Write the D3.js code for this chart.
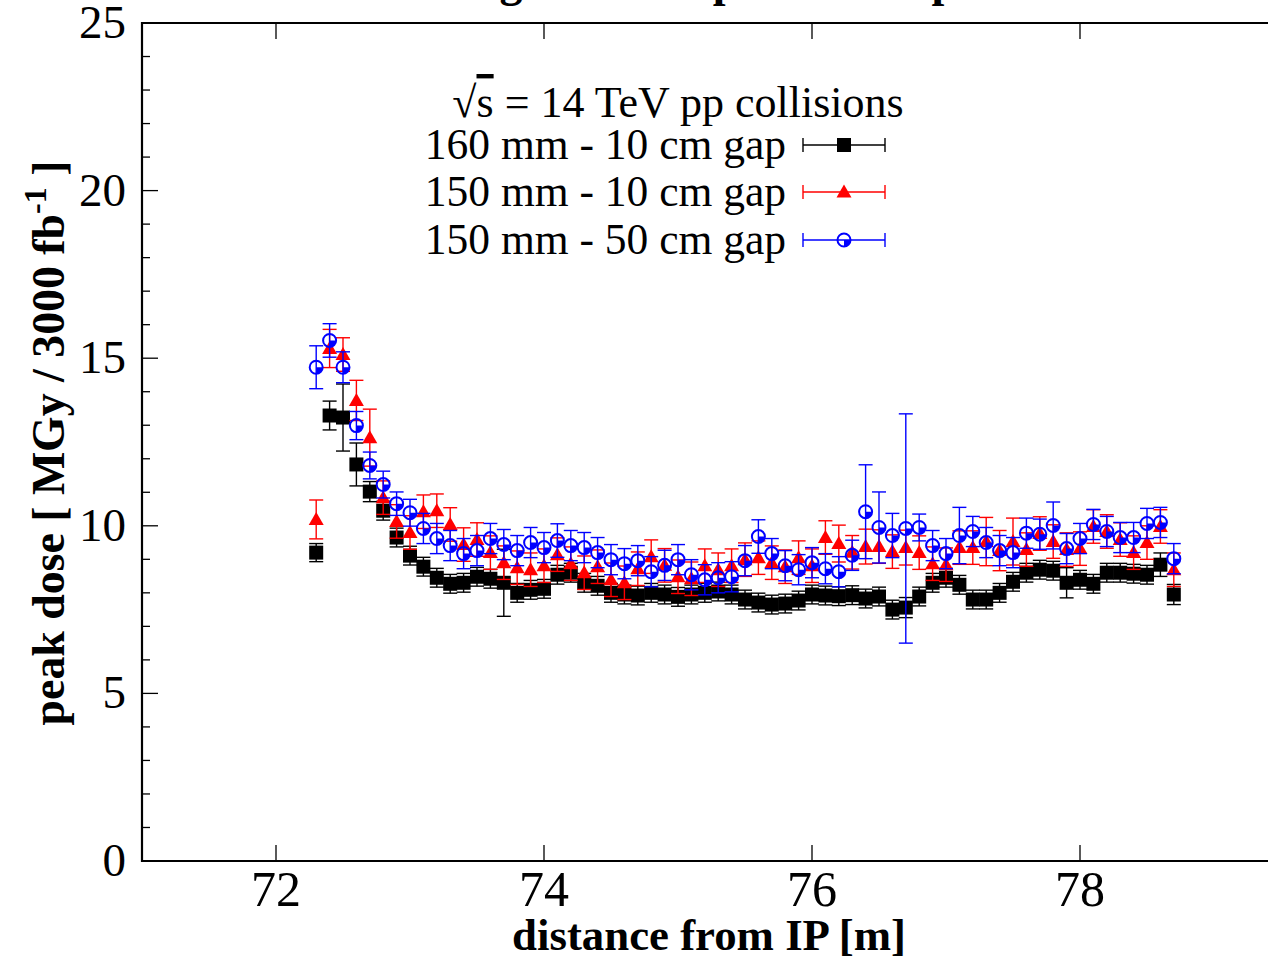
<!DOCTYPE html>
<html><head><meta charset="utf-8">
<script src="https://cdn.jsdelivr.net/npm/d3@7"></script>
<style>body{margin:0;background:#fff}svg{display:block}text{font-family:"Liberation Serif","Times New Roman",serif}</style>
</head><body>
<svg id="c" width="1268" height="959"></svg>
<script>
const distance = [72.3,72.4,72.5,72.6,72.7,72.8,72.9,73.0,73.1,73.2,73.3,73.4,73.5,73.6,73.7,73.8,73.9,74.0,74.1,74.2,74.3,74.4,74.5,74.6,74.7,74.8,74.9,75.0,75.1,75.2,75.3,75.4,75.5,75.6,75.7,75.8,75.9,76.0,76.1,76.2,76.3,76.4,76.5,76.6,76.7,76.8,76.9,77.0,77.1,77.2,77.3,77.4,77.5,77.6,77.7,77.8,77.9,78.0,78.1,78.2,78.3,78.4,78.5,78.6,78.7];
const dose160_10 = [9.20,13.29,13.23,11.83,11.02,10.45,9.65,9.11,8.78,8.45,8.27,8.30,8.48,8.42,8.30,8.00,8.09,8.12,8.54,8.60,8.30,8.21,8.00,7.95,7.92,8.00,7.95,7.88,7.95,8.00,8.04,7.95,7.80,7.71,7.65,7.68,7.77,7.95,7.92,7.90,7.93,7.83,7.89,7.50,7.56,7.89,8.30,8.45,8.24,7.80,7.80,8.00,8.33,8.60,8.69,8.66,8.30,8.39,8.27,8.60,8.60,8.57,8.54,8.84,7.95];
const err160_10 = [0.27,0.43,1.00,0.64,0.30,0.28,0.28,0.28,0.28,0.28,0.28,0.28,0.28,0.28,1.00,0.28,0.28,0.28,0.28,0.28,0.28,0.28,0.28,0.28,0.28,0.28,0.28,0.28,0.28,0.28,0.28,0.28,0.28,0.28,0.28,0.28,0.28,0.28,0.28,0.28,0.28,0.28,0.28,0.28,0.30,0.28,0.28,0.28,0.28,0.28,0.28,0.28,0.28,0.28,0.28,0.28,0.45,0.28,0.28,0.28,0.28,0.28,0.28,0.35,0.30];
const dose150_10 = [10.19,15.29,15.11,13.74,12.63,10.84,10.13,9.80,10.42,10.45,10.04,9.44,9.59,9.20,8.90,8.75,8.69,8.81,9.14,8.87,8.60,8.78,8.39,8.30,8.72,9.08,8.82,8.48,8.42,8.81,8.69,8.81,8.99,9.05,8.90,8.78,9.05,8.81,9.65,9.47,9.21,9.38,9.38,9.23,9.35,9.20,8.87,8.84,9.35,9.35,9.53,9.26,9.53,9.29,9.77,9.53,9.29,9.32,9.98,9.83,9.59,9.20,9.50,9.98,8.69];
const err150_10 = [0.58,0.57,0.50,0.60,0.85,0.50,0.50,0.50,0.50,0.50,0.50,0.50,0.50,0.50,0.50,0.50,0.50,0.50,0.50,0.50,0.50,0.50,0.50,0.50,0.50,0.50,0.50,0.50,0.50,0.50,0.50,0.50,0.50,0.50,0.50,0.50,0.50,0.50,0.50,0.55,0.50,0.52,0.50,0.50,0.52,0.50,0.50,0.50,0.50,0.50,0.72,0.60,0.70,0.50,0.50,0.50,0.50,0.50,0.50,0.50,0.50,0.50,0.50,0.50,0.50];
const dose150_50 = [14.73,15.53,14.73,12.99,11.80,11.23,10.66,10.39,9.92,9.62,9.41,9.17,9.26,9.62,9.44,9.26,9.50,9.35,9.56,9.41,9.35,9.20,8.99,8.87,8.96,8.63,8.82,8.99,8.54,8.39,8.45,8.48,8.96,9.68,9.17,8.81,8.69,8.90,8.72,8.63,9.12,10.42,9.95,9.71,9.92,9.95,9.41,9.17,9.71,9.83,9.50,9.26,9.20,9.78,9.75,10.01,9.32,9.62,10.04,9.83,9.65,9.65,10.07,10.10,9.02];
const err150_50 = [0.64,0.50,0.46,0.42,0.40,0.40,0.35,0.40,0.45,0.45,0.45,0.45,0.45,0.45,0.45,0.45,0.45,0.45,0.50,0.45,0.45,0.45,0.45,0.45,0.45,0.45,0.45,0.45,0.45,0.45,0.45,0.45,0.45,0.50,0.45,0.45,0.45,0.45,0.45,0.45,0.45,1.40,1.06,0.66,3.42,0.40,0.45,0.45,0.84,0.45,0.45,0.45,0.45,0.45,0.45,0.70,0.45,0.45,0.45,0.45,0.45,0.45,0.45,0.45,0.45];
const seriesNames = ["160 mm - 10 cm gap","150 mm - 10 cm gap","150 mm - 50 cm gap"];
const xTicks = [72,74,76,78];
const yTicks = [0,5,10,15,20,25];
const yMinorTicks = d3.range(0,26,1);

const svg = d3.select("#c");
const L=142, T=23, B=861, R=1281;
const x = d3.scaleLinear().domain([71,79.5]).range([L,R]);
const y = d3.scaleLinear().domain([0,25]).range([B,T]);

// title (cut off at the top; only descenders show)
const title = svg.append("text").attr("y",-4).attr("font-size",46).attr("font-weight","bold")
  .text("Peak dose along the D2 separation dipole");
{
  const n = title.node();
  const idx = title.text().indexOf("g");
  const ext = n.getExtentOfChar(idx);
  title.attr("x", 511 - (ext.x + ext.width/2));
}

// frame
const ax = svg.append("g").attr("stroke","#000").attr("fill","none");
ax.append("path").attr("d",`M${R},${T}H${L}V${B}H${R}`).attr("stroke-width",2.2);
yMinorTicks.forEach(v=>{
  const major = v%5===0;
  ax.append("line").attr("x1",L).attr("x2",L+(major?16:8)).attr("y1",y(v)).attr("y2",y(v)).attr("stroke-width",1.3);
});
xTicks.forEach(v=>{
  ax.append("line").attr("x1",x(v)).attr("x2",x(v)).attr("y1",B).attr("y2",B-16).attr("stroke-width",1.3);
  ax.append("line").attr("x1",x(v)).attr("x2",x(v)).attr("y1",T).attr("y2",T+16).attr("stroke-width",1.3);
});
yTicks.forEach(v=>{
  svg.append("text").attr("x",126).attr("y",y(v)+15).attr("text-anchor","end").attr("font-size",47).text(v);
});
xTicks.forEach(v=>{
  svg.append("text").attr("x",x(v)).attr("y",906).attr("text-anchor","middle").attr("font-size",50).text(v);
});

// axis labels
const xl = svg.append("text").attr("x",709).attr("y",950).attr("text-anchor","middle").attr("font-size",38).attr("font-weight","bold").text("distance from IP [m]");
{ const w = xl.node().getComputedTextLength(); xl.attr("font-size",38*394/w); }
const yl = svg.append("text").attr("transform","translate(64,443) rotate(-90)").attr("text-anchor","middle").attr("font-size",36).attr("font-weight","bold");
yl.append("tspan").text("peak dose [ MGy / 3000 fb");
yl.append("tspan").attr("dy",-14).attr("font-size","0.7em").text("-1");
yl.append("tspan").attr("dy",14).text(" ]");
{ const w = yl.node().getComputedTextLength(); const f = 36*565/w; yl.attr("font-size",f); yl.selectAll("tspan").filter((d,i)=>i===1).attr("dy",-f*0.4); yl.selectAll("tspan").filter((d,i)=>i===2).attr("dy",f*0.4); }

// markers
function marker(g, kind, color, cx, cy){
  if(kind===0){
    g.append("rect").attr("x",cx-7).attr("y",cy-7).attr("width",14).attr("height",14).attr("fill",color);
  } else if(kind===1){
    g.append("path").attr("d",`M${cx},${cy-7.5}L${cx+7.5},${cy+5.5}L${cx-7.5},${cy+5.5}Z`).attr("fill",color);
  } else {
    g.append("path").attr("d",`M${cx},${cy}L${cx+6.5},${cy}A6.5,6.5 0 0 1 ${cx},${cy+6.5}Z`).attr("fill",color);
    g.append("circle").attr("cx",cx).attr("cy",cy).attr("r",6.5).attr("fill","none").attr("stroke",color).attr("stroke-width",2);
  }
}
const colors = ["#000000","#ff0000","#0000ff"];
const vals = [dose160_10,dose150_10,dose150_50];
const errs = [err160_10,err150_10,err150_50];
vals.forEach((vs,k)=>{
  const g = svg.append("g");
  const c = colors[k];
  distance.forEach((d,i)=>{
    const cx = x(d), y1 = y(vs[i]-errs[k][i]), y2 = y(vs[i]+errs[k][i]);
    g.append("line").attr("x1",cx).attr("x2",cx).attr("y1",y1).attr("y2",y2).attr("stroke",c).attr("stroke-width",1.4);
    [y1,y2].forEach(yy=>g.append("line").attr("x1",cx-7).attr("x2",cx+7).attr("y1",yy).attr("y2",yy).attr("stroke",c).attr("stroke-width",1.4));
  });
  distance.forEach((d,i)=>marker(g,k,c,x(d),y(vs[i])));
});

// legend
const lg = svg.append("g");
const kt = lg.append("text").attr("x",678).attr("y",117).attr("text-anchor","middle").attr("font-size",44);
kt.append("tspan").text("√");
kt.append("tspan").attr("text-decoration","overline").text("s");
kt.append("tspan").text(" = 14 TeV pp collisions");
const rows = [145,192,240];
seriesNames.forEach((nm,k)=>{
  const cy = rows[k], c = colors[k];
  lg.append("text").attr("x",786).attr("y",cy+14).attr("text-anchor","end").attr("font-size",43.5).text(nm);
  lg.append("line").attr("x1",803).attr("x2",885).attr("y1",cy).attr("y2",cy).attr("stroke",c).attr("stroke-width",1.4);
  [803,885].forEach(xx=>lg.append("line").attr("x1",xx).attr("x2",xx).attr("y1",cy-7).attr("y2",cy+7).attr("stroke",c).attr("stroke-width",1.4));
  marker(lg,k,c,844,cy);
});
</script>
</body></html>
